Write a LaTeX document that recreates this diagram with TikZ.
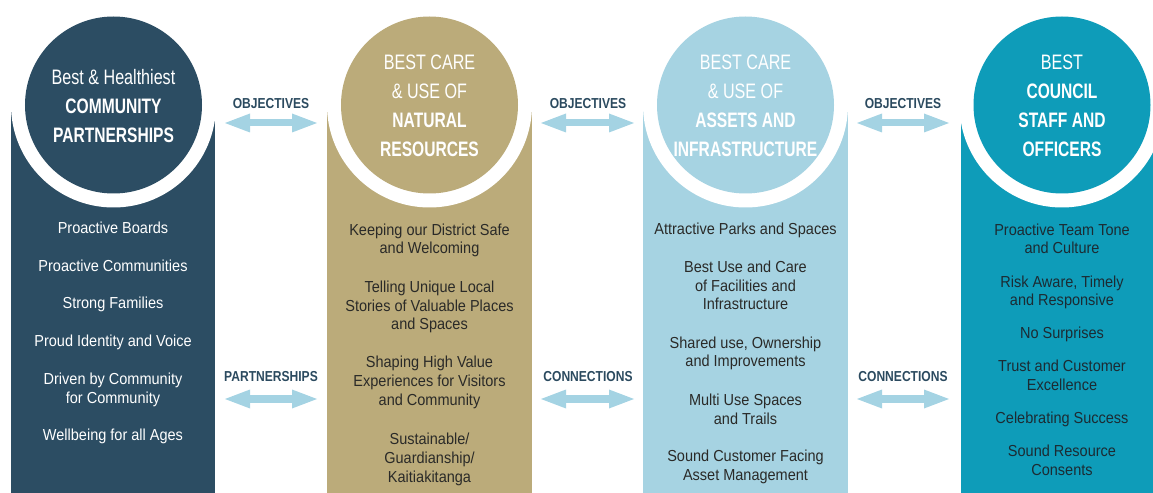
\documentclass[tikz,border=0pt]{standalone}
\usepackage{fontspec}
\setmainfont{Liberation Sans}[FakeStretch=0.91]
\newfontfamily\headfont{Liberation Sans}[FakeStretch=0.77,BoldFeatures={FakeStretch=0.745}]
\newfontfamily\tagfont{Liberation Sans}[FakeStretch=0.835]
\usetikzlibrary{arrows.meta}
\definecolor{colNavy}{HTML}{2C4D63}
\definecolor{colSand}{HTML}{BBAB7A}
\definecolor{colSky}{HTML}{A6D3E2}
\definecolor{colTeal}{HTML}{0E9CB9}
\definecolor{arrowBlue}{HTML}{A4D3E3}
\definecolor{tagBlue}{HTML}{2B4A5F}
\definecolor{inkDark}{HTML}{2A2A28}
\definecolor{inkTeal}{HTML}{1C2B33}
\begin{document}
\begin{tikzpicture}[x=1bp,y=-1bp,
  % body items are placed by the baseline of their last line
  body/.style={anchor=base, align=center, inner sep=0pt, font=\fontsize{16}{19}\selectfont},
  head/.style={align=center, inner sep=0pt, text=white, font=\headfont\fontsize{21}{29}\selectfont},
  tag/.style={inner sep=0pt, text=tagBlue, font=\tagfont\bfseries\fontsize{14.5}{16}\selectfont},
  link/.style={arrowBlue, line width=7bp,
    {Triangle[length=25bp,width=19bp,line width=0pt]}-{Triangle[length=25bp,width=19bp,line width=0pt]}},
  ring/.style={circle, fill=white, minimum size=205bp, inner sep=0pt},
  disc/.style={circle, minimum size=177bp, inner sep=0pt}
]
\useasboundingbox (0,0) rectangle (1153,493);
\clip (0,0) rectangle (1153,493);

% ---------- column 1: community partnerships ----------
\fill[colNavy] (11,105) rectangle (215,493);
\node[ring] (r1) at (113.5,105) {};
\node[disc, fill=colNavy] (c1) at (113.5,105) {};
\node[head] (h1) at (113.5,106) {Best \& Healthiest\\\textbf{COMMUNITY}\\\textbf{PARTNERSHIPS}};
\begin{scope}[every node/.append style={text=white}]
\node[body] (a1) at (113,234) {Proactive Boards};
\node[body] (a2) at (113,271.5) {Proactive Communities};
\node[body] (a3) at (113,309) {Strong Families};
\node[body] (a4) at (113,346.5) {Proud Identity and Voice};
\node[body] (a5) at (113,403) {Driven by Community\\for Community};
\node[body] (a6) at (113,440.5) {Wellbeing for all Ages};
\end{scope}

% ---------- column 2: natural resources ----------
\fill[colSand] (327,105) rectangle (531.5,493);
\node[ring] (r2) at (429.5,105) {};
\node[disc, fill=colSand] (c2) at (429.5,105) {};
\node[head] (h2) at (429.5,106) {BEST CARE\\\& USE OF\\\textbf{NATURAL}\\\textbf{RESOURCES}};
\begin{scope}[every node/.append style={text=inkDark}]
\node[body] (b1) at (429.5,254) {Keeping our District Safe\\and Welcoming};
\node[body] (b2) at (429.5,330) {Telling Unique Local\\Stories of Valuable Places\\and Spaces};
\node[body] (b3) at (429.5,405) {Shaping High Value\\Experiences for Visitors\\and Community};
\node[body] (b4) at (429.5,482) {Sustainable/\\Guardianship/\\Kaitiakitanga};
\end{scope}

% ---------- column 3: assets and infrastructure ----------
\fill[colSky] (643,105) rectangle (848,493);
\node[ring] (r3) at (745.5,105) {};
\node[disc, fill=colSky] (c3) at (745.5,105) {};
\node[head] (h3) at (745.5,106) {BEST CARE\\\& USE OF\\\textbf{ASSETS AND}\\\textbf{INFRASTRUCTURE}};
\begin{scope}[every node/.append style={text=inkDark}]
\node[body] (d1) at (745.5,234.5) {Attractive Parks and Spaces};
\node[body] (d2) at (745.5,310) {Best Use and Care\\of Facilities and\\Infrastructure};
\node[body] (d3) at (745.5,367) {Shared use, Ownership\\and Improvements};
\node[body] (d4) at (745.5,424) {Multi Use Spaces\\and Trails};
\node[body] (d5) at (745.5,480) {Sound Customer Facing\\Asset Management};
\end{scope}

% ---------- column 4: council staff and officers ----------
\fill[colTeal] (961,105) rectangle (1165,493);
\node[ring] (r4) at (1062,105) {};
\node[disc, fill=colTeal] (c4) at (1062,105) {};
\node[head] (h4) at (1062,106) {BEST\\\textbf{COUNCIL}\\\textbf{STAFF AND}\\\textbf{OFFICERS}};
\begin{scope}[every node/.append style={text=inkTeal}]
\node[body] (e1) at (1062,254) {Proactive Team Tone\\and Culture};
\node[body] (e2) at (1062,306) {Risk Aware, Timely\\and Responsive};
\node[body] (e3) at (1062,339) {No Surprises};
\node[body] (e4) at (1062,390) {Trust and Customer\\Excellence};
\node[body] (e5) at (1062,423) {Celebrating Success};
\node[body] (e6) at (1062,475) {Sound Resource\\Consents};
\end{scope}

% ---------- links between the columns ----------
\node[tag] (t1) at (271,103.5) {OBJECTIVES};
\node[tag] (t2) at (588,103.5) {OBJECTIVES};
\node[tag] (t3) at (903,103.5) {OBJECTIVES};
\node[tag] (t4) at (271,377) {PARTNERSHIPS};
\node[tag] (t5) at (588,377) {CONNECTIONS};
\node[tag] (t6) at (903,377) {CONNECTIONS};

\coordinate (o1l) at (225,123);  \coordinate (o1r) at (317,123);
\coordinate (o2l) at (541,123);  \coordinate (o2r) at (634,123);
\coordinate (o3l) at (857,123);  \coordinate (o3r) at (949,123);
\coordinate (p1l) at (225,399);  \coordinate (p1r) at (317,399);
\coordinate (p2l) at (541,399);  \coordinate (p2r) at (634,399);
\coordinate (p3l) at (857,399);  \coordinate (p3r) at (949,399);

\draw[link] (o1l) -- (o1r);
\draw[link] (o2l) -- (o2r);
\draw[link] (o3l) -- (o3r);
\draw[link] (p1l) -- (p1r);
\draw[link] (p2l) -- (p2r);
\draw[link] (p3l) -- (p3r);
\end{tikzpicture}
\end{document}
